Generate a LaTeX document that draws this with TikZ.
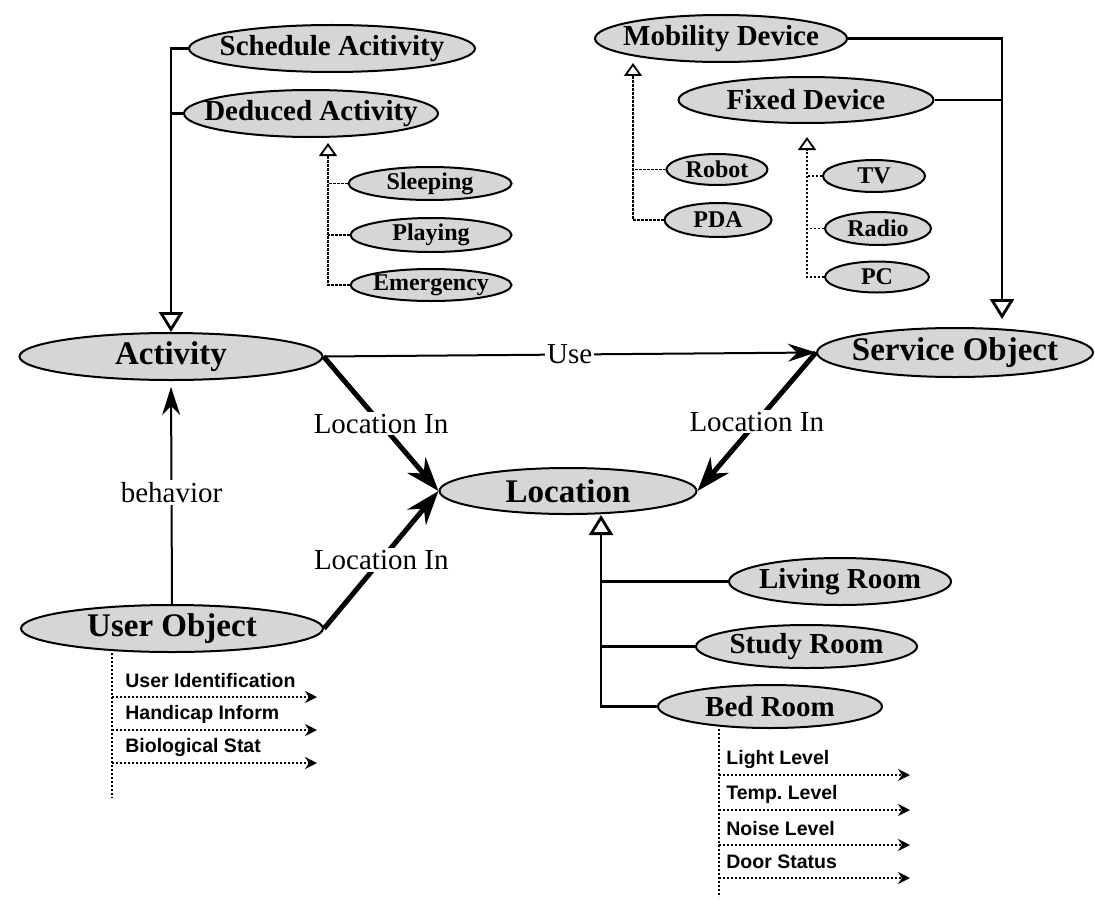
\documentclass[tikz,border=0pt]{standalone}
\usepackage{fontspec}
\setmainfont{Liberation Serif}
\setsansfont{Liberation Sans}
\usepackage{tikz}
\usetikzlibrary{
  shapes.geometric, % Shape "ellipse"
  arrows.meta,      % Tips "Triangle", "Stealth"
}
\frenchspacing
\def\mylblsep{1pt}
\def\mylblshift{16}
\tikzset{
  semithick,
  >=Stealth,
  obj/.style={
    ellipse,
    draw,
    fill=black!16,
    line width=1pt,
    % let minimum width/height fix the size
    inner xsep=-30pt,
    inner ysep=-8pt
  },
  big obj/.style={
    obj,
    minimum height=23.5pt,
    font=\bfseries\fontsize{16.5}{18}\selectfont
  },
  mid obj/.style={
    obj,
    minimum height=23pt,
    font=\bfseries\fontsize{14.5}{16}\selectfont
  },
  small obj/.style={
    obj,
    minimum height=16.5pt,
    font=\bfseries\fontsize{12}{14}\selectfont
  },
  trunk/.style={
    line width=1.4pt
  },
  isa/.style={
    trunk,
    -{Triangle[open,length=10pt,width=12pt]}
  },
  sub/.style={
    line width=0.9pt,
    dash pattern=on 1.2pt off 0.8pt
  },
  subisa/.style={
    sub,
    -{Triangle[open,length=6.5pt,width=9pt]}
  },
  rel/.style={
    line width=1pt,
    -{Stealth[length=14pt,width=9pt]}
  },
  locin/.style={
    line width=2.5pt,
    -{Stealth[length=17pt,width=12pt]}
  },
  lbl/.style={
    fill=white,
    inner sep=\mylblsep,
    font=\fontsize{14.5}{16}\selectfont
  },
  attr/.style={
    anchor=west,
    inner sep=0pt,
    font=\sffamily\bfseries\fontsize{9.75}{11}\selectfont
  },
  attrline/.style={
    line width=0.9pt,
    dash pattern=on 1.2pt off 0.8pt
  },
  attrarrow/.style={
    attrline,
    -{Stealth[length=6pt,width=6pt]}
  }
}

\begin{document}
\begin{tikzpicture}[x=0.5pt,y=-0.5pt]
\useasboundingbox (0,0) rectangle (1095,899);

% main objects
\node[big obj, minimum width=151.5pt] (act) at (171,356.5) {Activity};
\node[big obj, minimum width=138pt, minimum height=24.5pt] (svc) at (955,352.5) {Service Object};
\node[big obj, minimum width=128.5pt, minimum height=23pt] (loc) at (568,491) {Location};
\node[big obj, minimum width=151pt] (user) at (172,628.5) {User Object};

% kinds of activity
\node[mid obj, minimum width=143pt, minimum height=23.5pt] (sched) at (332,48.5) {Schedule Acitivity};
\node[mid obj, minimum width=127pt, minimum height=23.5pt] (ded) at (311,113.5) {Deduced Activity};
\node[small obj, minimum width=81.5pt] (sleep) at (430,183.5) {Sleeping};
\node[small obj, minimum width=80.5pt, minimum height=17pt] (play) at (431,235) {Playing};
\node[small obj, minimum width=80.5pt, minimum height=16pt] (emerg) at (431,285) {Emergency};

% kinds of device
\node[mid obj, minimum width=126pt, minimum height=23.5pt] (mob) at (721,38.5) {Mobility Device};
\node[mid obj, minimum width=127.5pt] (fix) at (806,100) {Fixed Device};
\node[small obj, minimum width=50.5pt, minimum height=15.5pt] (robot) at (717,169.5) {Robot};
\node[small obj, minimum width=53.5pt, minimum height=17pt] (pda) at (718,220) {PDA};
\node[small obj, minimum width=51pt, minimum height=16pt] (tv) at (874,176) {TV};
\node[small obj, minimum width=53pt] (radio) at (878,228.5) {Radio};
\node[small obj, minimum width=52pt, minimum height=15.5pt] (pc) at (877,277) {PC};

% kinds of room
\node[mid obj, minimum width=111pt, minimum height=23.5pt] (living) at (840,581.5) {Living Room};
\node[mid obj, minimum width=110.5pt, minimum height=21.5pt] (study) at (806.5,646.5) {Study Room};
\node[mid obj, minimum width=112pt, minimum height=21.5pt] (bed) at (770,706.5) {Bed Room};

% x of the vertical trunks
\coordinate (dtr) at (328,0);
\coordinate (mtr) at (633,0);
\coordinate (ftr) at (807,0);
\coordinate (str) at (1002,0);
\coordinate (ltr) at (601,0);

% generalisations
\draw[isa] (sched.west) -| (act.north);
\draw[trunk] (ded.west) -- (ded.west -| act.north);
\draw[subisa, shorten >=2.5pt] (emerg.west) -| (ded.south -| dtr);
\draw[sub] (sleep.west) -- (sleep.west -| dtr);
\draw[sub] (play.west) -- (play.west -| dtr);

\draw[isa, shorten >=4pt] (mob.east) -| (svc.north -| str);
\draw[trunk] (fix.east) -- (fix.east -| str);
\draw[subisa] (pda.west) -| (mob.south -| mtr);
\draw[sub] (robot.west) -- (robot.west -| mtr);
\draw[subisa, shorten >=6.5pt] (pc.west) -| (fix.south -| ftr);
\draw[sub] (tv.west) -- (tv.west -| ftr);
\draw[sub] (radio.west) -- (radio.west -| ftr);

\draw[isa] (bed.west) -| (loc.south -| ltr);
\draw[trunk] (living.west) -- (living.west -| ltr);
\draw[trunk] (study.west) -- (study.west -| ltr);

% relations
\draw[rel] (act.east) -- node[lbl] (use) {Use} (svc.west);
\draw[rel, shorten >=3pt] (user.north) -- node[lbl] (behav) {behavior} (act.south);
\draw[locin] (act.east) -- node[lbl] (lin1) {Location In} (loc.west);
\draw[locin] (user.east) -- node[lbl] (lin2) {Location In} (loc.west);
\draw[locin] (svc.west) -- node[lbl] (lin3) {Location In} (loc.east);

% attributes of the user
\coordinate (utr) at (112,798);
\draw[attrline] (user.south -| utr) -- (utr);
\foreach \txt/\y [count=\i] in {User Identification/697, Handicap Inform/730, Biological Stat/763}{
  \coordinate (ua\i) at (112,\y);
  \coordinate (ub\i) at (317,\y);
  \node[attr] (ul\i) at (125,\y-\mylblshift) {\txt};
  \draw[attrarrow] (ua\i) -- (ub\i);
}

% attributes of the bed room
\coordinate (btr) at (719,897);
\draw[attrline] (bed.south -| btr) -- (btr);
\foreach \txt/\y [count=\i] in {Light Level/775, Temp. Level/810, Noise Level/845, Door Status/878}{
  \coordinate (ba\i) at (719,\y);
  \coordinate (bb\i) at (910,\y);
  \node[attr] (bl\i) at (726,\y-\mylblshift) {\txt};
  \draw[attrarrow] (ba\i) -- (bb\i);
}
\end{tikzpicture}
\end{document}
